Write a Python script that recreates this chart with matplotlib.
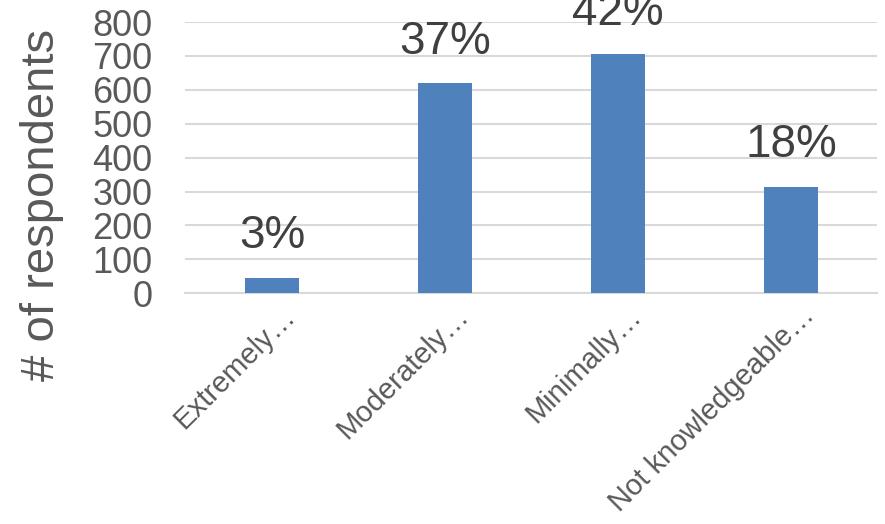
import matplotlib
matplotlib.use("Agg")
import matplotlib.pyplot as plt
import matplotlib.transforms as mtransforms
import numpy as np

plt.rcParams["font.family"] = ["Liberation Sans", "DejaVu Sans"]

CATEGORIES = ["Extremely…", "Moderately…", "Minimally…", "Not knowledgeable…"]
RESPONDENTS = [46, 620, 705, 314]
PERCENT_LABELS = ["3%", "37%", "42%", "18%"]
Y_TICKS = [0, 100, 200, 300, 400, 500, 600, 700, 800]

BAR_COLOR = "#4F81BD"
GRID_COLOR = "#D9D9D9"
TICK_COLOR = "#595959"
LABEL_COLOR = "#404040"

fig = plt.figure(figsize=(8.85, 5.24), dpi=100)
ax = fig.add_axes([0.2096, 0.4403, 0.7819, 0.5177])

x = np.arange(len(CATEGORIES))
bars = ax.bar(x, RESPONDENTS, width=0.31, color=BAR_COLOR, zorder=3)

for bar, pct in zip(bars, PERCENT_LABELS):
    ax.annotate(pct, xy=(bar.get_x() + bar.get_width() / 2, bar.get_height()),
                xytext=(0, 14), textcoords="offset points",
                ha="center", va="bottom", fontsize=33, color=LABEL_COLOR,
                annotation_clip=False)

ax.set_xlim(-0.5, len(CATEGORIES) - 0.5)
ax.set_ylim(0, 800)
ax.set_yticks(Y_TICKS)
ax.set_yticklabels([str(v) for v in Y_TICKS], fontsize=26, color=TICK_COLOR)
ax.tick_params(axis="y", length=0, pad=24)
ax.yaxis.grid(True, color=GRID_COLOR, linewidth=1.5, zorder=0)
ax.set_axisbelow(True)

ax.set_xticks(x)
ax.set_xticklabels(CATEGORIES, fontsize=21, color=TICK_COLOR,
                   rotation=45, ha="right", va="top")
ax.tick_params(axis="x", length=0, pad=6)
shift = mtransforms.ScaledTranslation(0.29, 0, fig.dpi_scale_trans)
for lbl in ax.get_xticklabels():
    lbl.set_transform(lbl.get_transform() + shift)

for side in ["top", "right", "left"]:
    ax.spines[side].set_visible(False)
ax.spines["bottom"].set_color(GRID_COLOR)
ax.spines["bottom"].set_linewidth(1.5)

fig.text(42 / 885, 1 - 205 / 524, "# of respondents", rotation=90,
         ha="center", va="center", fontsize=34, color=TICK_COLOR)

fig.savefig("out.png", dpi=100)
plt.close(fig)
